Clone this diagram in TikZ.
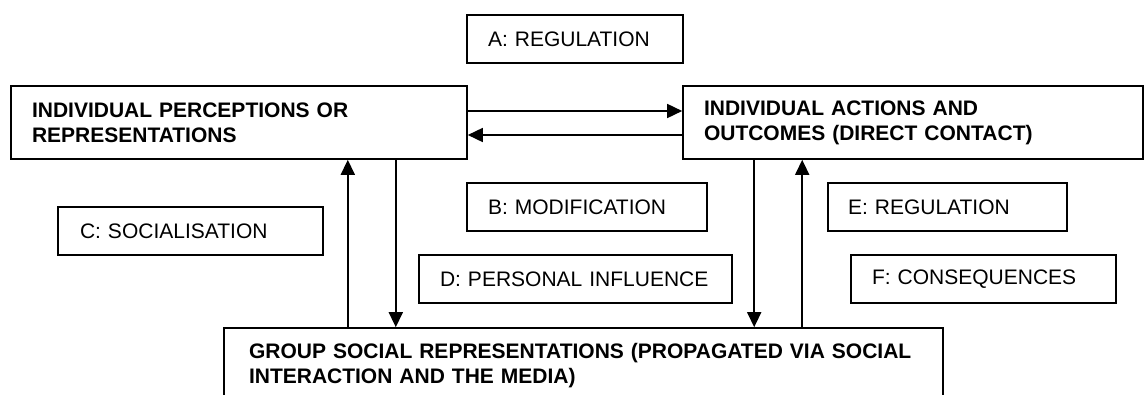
\documentclass[tikz,border=0pt]{standalone}
\usepackage{fontspec}
\setmainfont{Liberation Sans}
\usetikzlibrary{arrows.meta,calc}
\begin{document}
\begin{tikzpicture}[x=1pt,y=-1pt,
  box/.style n args={3}{draw, line width=1.6pt, rectangle, inner ysep=0pt,
    inner xsep=#3pt, text width=#1pt-2*#3pt, minimum height=#2pt, align=left,
    font=\fontsize{21}{25}\selectfont},
  bbox/.style n args={3}{box={#1}{#2}{#3}, font=\fontsize{21}{25}\selectfont\bfseries},
  arr/.style={line width=1.6pt, -{Triangle[length=15pt,width=14pt]}}]
\useasboundingbox (0,0) rectangle (1144,394);
\clip (0,0) rectangle (1144,394);

\node[box={216}{48}{21}] (A) at (575,39) {A: REGULATION};
\node[bbox={456}{73}{21}] (IPR) at (239,122.5) {INDIVIDUAL PERCEPTIONS OR\\REPRESENTATIONS};
\node[bbox={460}{73}{21}] (IA) at (913,122.5) {INDIVIDUAL ACTIONS AND\\OUTCOMES (DIRECT CONTACT)};
\node[box={240}{48}{21}] (B) at (587,207) {B: MODIFICATION};
\node[box={265}{48}{22}] (C) at (190.5,231) {C: SOCIALISATION};
\node[box={313}{48}{21}] (D) at (575.5,279) {D: PERSONAL INFLUENCE};
\node[box={239}{48}{20}] (E) at (947.5,207) {E: REGULATION};
\node[box={265}{48}{21}] (F) at (983.5,279) {F: CONSEQUENCES};
\node[bbox={719}{76}{25}] (GSR) at (583.5,366) {GROUP SOCIAL REPRESENTATIONS (PROPAGATED VIA SOCIAL\\INTERACTION AND THE MEDIA)};

% horizontal arrows
\coordinate (h1) at ([yshift=11.5pt]IPR.east);
\coordinate (h2) at ([yshift=-12.5pt]IPR.east);
\draw[arr] (h1) -- (h1 -| IA.west);
\draw[arr] (h2 -| IA.west) -- (h2);

% vertical arrows
\coordinate (v1) at ([xshift=-120pt]IPR.south east);
\coordinate (v2) at ([xshift=-72pt]IPR.south east);
\coordinate (v3) at ([xshift=72pt]IA.south west);
\coordinate (v4) at ([xshift=120pt]IA.south west);
\draw[arr] (v1 |- GSR.north) -- (v1);
\draw[arr] (v2) -- (v2 |- GSR.north);
\draw[arr] (v3) -- (v3 |- GSR.north);
\draw[arr] (v4 |- GSR.north) -- (v4);
\end{tikzpicture}
\end{document}
